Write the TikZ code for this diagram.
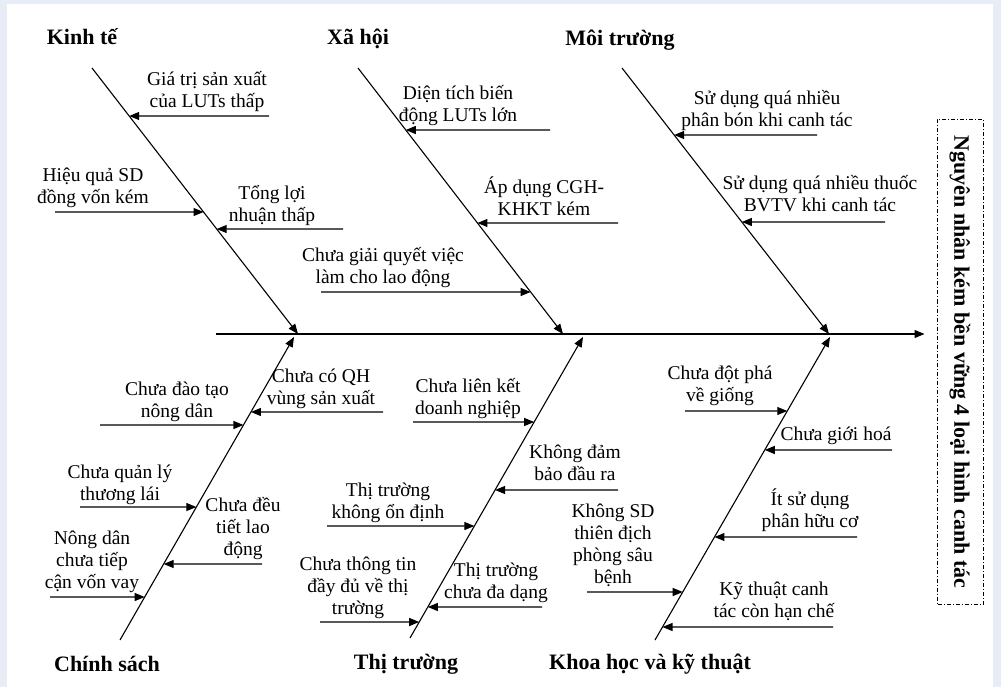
\documentclass[tikz,border=0pt]{standalone}
\usepackage{fontspec}
\setmainfont{Liberation Serif}
\usetikzlibrary{arrows.meta,calc}
\definecolor{bgc}{HTML}{E8ECF6}
\begin{document}
\begin{tikzpicture}[x=1pt,y=-1pt,
  bone/.style={line width=1.1pt,-{Triangle[length=10pt,width=8pt]}},
  cause/.style={line width=1.1pt,-{Triangle[length=10pt,width=8pt]}},
  lbl/.style={font=\fontsize{19.5}{22}\selectfont,align=center,anchor=south,inner sep=0pt,text depth=6pt},
  ttl/.style={font=\fontsize{22}{26}\selectfont\bfseries,anchor=base,inner sep=0pt},
  effectbox/.style={draw,line width=1pt,dash pattern=on 4pt off 2pt on 1pt off 2pt,rotate=-90,
    minimum width=485pt,minimum height=46pt,inner sep=0pt,font=\fontsize{22}{25}\selectfont\bfseries},
]
\useasboundingbox (0,0) rectangle (1001,687);
\fill[bgc] (0,0) rectangle (1001,687);
\fill[white] (7,4) rectangle (993,687);

% effect
\node[effectbox] (effect) at (960,362) {Nguyên nhân kém bền vững 4 loại hình canh tác};

% spine
\coordinate (sp0) at (216,334);
\coordinate (head) at ($(sp0 -| effect.south)+(-12,0)$);
\draw[cause] (sp0) -- (head);

% bones
\coordinate (kA) at (92,68);  \coordinate (kB) at (298,334);
\coordinate (xA) at (358,68); \coordinate (xB) at (563,334);
\coordinate (mA) at (622,68); \coordinate (mB) at (829,334);
\coordinate (cA) at (120,640); \coordinate (cB) at (294,337);
\coordinate (tA) at (410,638); \coordinate (tB) at (583,337);
\coordinate (hA) at (655,640); \coordinate (hB) at (830,337);
\foreach \b in {k,x,m,c,t,h} {\draw[bone] (\b A) -- (\b B);}

% points on bones
\path (kA) -- (kB) coordinate[pos=0.1805] (k1) coordinate[pos=0.5414] (k2) coordinate[pos=0.6053] (k3);
\path (xA) -- (xB) coordinate[pos=0.2331] (x1) coordinate[pos=0.5827] (x2) coordinate[pos=0.8421] (x3);
\path (mA) -- (mB) coordinate[pos=0.2519] (m1) coordinate[pos=0.5789] (m2);
\path (cA) -- (cB) coordinate[pos=0.7525] (c1) coordinate[pos=0.7096] (c2) coordinate[pos=0.4389] (c3) coordinate[pos=0.2508] (c4) coordinate[pos=0.1419] (c5);
\path (tA) -- (tB) coordinate[pos=0.7176] (t1) coordinate[pos=0.4917] (t2) coordinate[pos=0.3721] (t3) coordinate[pos=0.1030] (t4) coordinate[pos=0.0532] (t5);
\path (hA) -- (hB) coordinate[pos=0.7558] (h1) coordinate[pos=0.6271] (h2) coordinate[pos=0.3399] (h3) coordinate[pos=0.1584] (h4) coordinate[pos=0.0429] (h5);

% free ends
\coordinate (s1) at (269,116);
\coordinate (s2) at (55,212);
\coordinate (s3) at (343,229);
\coordinate (s4) at (321,292);
\coordinate (s5) at (550,130);
\coordinate (s6) at (618,223);
\coordinate (s7) at (817,135);
\coordinate (s8) at (885,222);
\coordinate (s9) at (383,412);
\coordinate (s10) at (100,425);
\coordinate (s11) at (80,507);
\coordinate (s12) at (262,564);
\coordinate (s13) at (50,597);
\coordinate (s14) at (413,422);
\coordinate (s15) at (618,490);
\coordinate (s16) at (327,526);
\coordinate (s17) at (320,622);
\coordinate (s18) at (542,607);
\coordinate (s19) at (685,411);
\coordinate (s20) at (892,450);
\coordinate (s21) at (857,537);
\coordinate (s22) at (587,592);
\coordinate (s23) at (833,627);

\draw[cause] (s1) -- (k1);
\draw[cause] (s2) -- (k2);
\draw[cause] (s3) -- (k3);
\draw[cause] (s4) -- (x3);
\draw[cause] (s5) -- (x1);
\draw[cause] (s6) -- (x2);
\draw[cause] (s7) -- (m1);
\draw[cause] (s8) -- (m2);
\draw[cause] (s9) -- (c1);
\draw[cause] (s10) -- (c2);
\draw[cause] (s11) -- (c3);
\draw[cause] (s12) -- (c4);
\draw[cause] (s13) -- (c5);
\draw[cause] (s14) -- (t1);
\draw[cause] (s15) -- (t2);
\draw[cause] (s16) -- (t3);
\draw[cause] (s17) -- (t5);
\draw[cause] (s18) -- (t4);
\draw[cause] (s19) -- (h1);
\draw[cause] (s20) -- (h2);
\draw[cause] (s21) -- (h3);
\draw[cause] (s22) -- (h4);
\draw[cause] (s23) -- (h5);

% titles
\node[ttl] (tk) at (82,45) {Kinh tế};
\node[ttl] (tx) at (358,45) {Xã hội};
\node[ttl] (tm) at (620,46) {Môi trường};
\node[ttl] (tc) at (107,671) {Chính sách};
\node[ttl] (tt) at (406,669) {Thị trường};
\node[ttl] (th) at (650,669) {Khoa học và kỹ thuật};

% labels
\node[lbl] (l1) at (207,114) {Giá trị sản xuất\\của LUTs thấp};
\node[lbl] (l2) at (93,210) {Hiệu quả SD\\đồng vốn kém};
\node[lbl] (l3) at (272,228) {Tổng lợi\\nhuận thấp};
\node[lbl] (l4) at (383,290) {Chưa giải quyết việc\\làm cho lao động};
\node[lbl] (l5) at (458,128) {Diện tích biến\\động LUTs lớn};
\node[lbl] (l6) at (544,222) {Áp dụng CGH-\\KHKT kém};
\node[lbl] (l7) at (767,133) {Sử dụng quá nhiều\\phân bón khi canh tác};
\node[lbl] (l8) at (820,218) {Sử dụng quá nhiều thuốc\\BVTV khi canh tác};
\node[lbl] (l9) at (321,411) {Chưa có QH\\vùng sản xuất};
\node[lbl] (l10) at (177,424) {Chưa đào tạo\\nông dân};
\node[lbl] (l11) at (120,507) {Chưa quản lý\\thương lái};
\node[lbl] (l12) at (243,562) {Chưa đều\\tiết lao\\động};
\node[lbl] (l13) at (92,595) {Nông dân\\chưa tiếp\\cận vốn vay};
\node[lbl] (l14) at (468,421) {Chưa liên kết\\doanh nghiệp};
\node[lbl] (l15) at (575,487) {Không đảm\\bảo đầu ra};
\node[lbl] (l16) at (388,525) {Thị trường\\không ổn định};
\node[lbl] (l17) at (358,621) {Chưa thông tin\\đầy đủ về thị\\trường};
\node[lbl] (l18) at (496,605) {Thị trường\\chưa đa dạng};
\node[lbl] (l19) at (720,408) {Chưa đột phá\\về giống};
\node[lbl] (l20) at (836,447) {Chưa giới hoá};
\node[lbl] (l21) at (810,534) {Ít sử dụng\\phân hữu cơ};
\node[lbl] (l22) at (613,590) {Không SD\\thiên địch\\phòng sâu\\bệnh};
\node[lbl] (l23) at (774,624) {Kỹ thuật canh\\tác còn hạn chế};
\end{tikzpicture}
\end{document}
